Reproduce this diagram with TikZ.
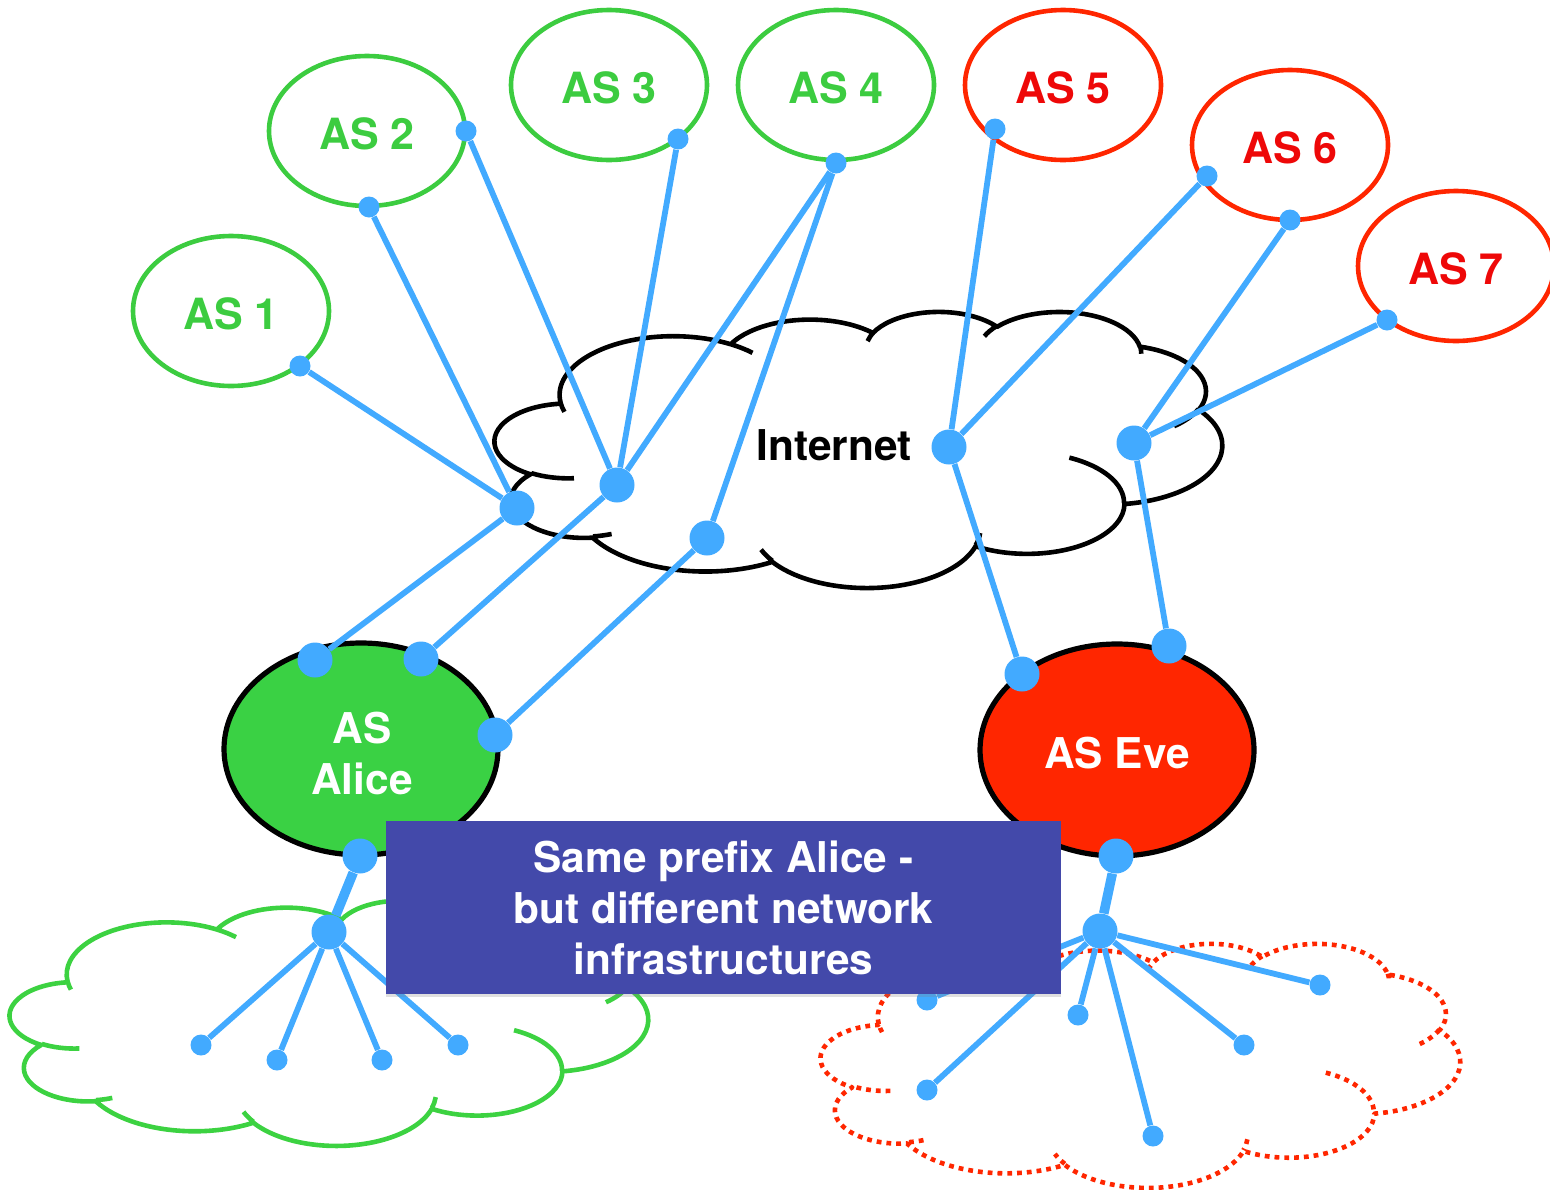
\documentclass[tikz,border=0pt]{standalone}
\usepackage{fontspec}
\setmainfont{TeX Gyre Heros}
\usetikzlibrary{shapes.geometric,shadows}

\definecolor{asgreen}{RGB}{60,204,64}
\definecolor{alicegreen}{RGB}{58,209,68}
\definecolor{asred}{RGB}{255,38,0}
\definecolor{astext}{RGB}{238,8,8}
\definecolor{evered}{RGB}{255,38,0}
\definecolor{linkblue}{RGB}{66,170,255}
\definecolor{boxblue}{RGB}{67,73,170}
\definecolor{cloudgreen}{RGB}{60,210,65}

% Office-style cloud outline in a 0..100 x 0..100 frame (y pointing down),
% followed by the short inner curls
\def\cloudpath{%
  (9.028,33.264)
  arc[start angle=-187.746, end angle=-59.63, x radius=15.632, y radius=21.273]
  arc[start angle=-152.02, end angle=-45.43, x radius=12.345, y radius=16.822]
  arc[start angle=-153.49, end angle=-37.33, x radius=10.104, y radius=13.762]
  arc[start angle=-139.69, end angle=-10.21, x radius=11.243, y radius=15.266]
  arc[start angle=-74.77, end angle=23.21, x radius=12.345, y radius=16.836]
  arc[start angle=-37.53, end angle=81.86, x radius=15.683, y radius=21.343]
  arc[start angle=0.46, end angle=121.98, x radius=13.391, y radius=18.211]
  arc[start angle=16.84, end angle=146.23, x radius=15.630, y radius=21.331]
  arc[start angle=58.98, end angle=150.20, x radius=17.870, y radius=24.405]
  arc[start angle=83.31, end angle=223.09, x radius=10.093, y radius=13.699]
  arc[start angle=120.36, end angle=264.11, x radius=10.058, y radius=13.762]
  -- cycle
  (10.863,60.595) arc[start angle=85.54, end angle=120.36, x radius=10.058, y radius=13.762]
  (16.037,80.785) arc[start angle=68.24, end angle=83.31, x radius=10.093, y radius=13.699]
  (38.144,90.486) arc[start angle=146.23, end angle=158.47, x radius=15.630, y radius=21.331]
  (66.729,80.442) arc[start angle=4.74, end angle=16.84, x radius=15.630, y radius=21.331]
  (79.002,53.134) arc[start angle=-64.03, end angle=0.46, x radius=13.391, y radius=18.211]
  (96.755,35.542) arc[start angle=23.21, end angle=49.63, x radius=12.345, y radius=16.836]
  (88.713,12.560) arc[start angle=-10.21, end angle=0.82, x radius=11.243, y radius=15.266]
  (67.310,9.148) arc[start angle=-156.29, end angle=-139.69, x radius=11.243, y radius=15.266]
  (51.252,10.926) arc[start angle=-167.73, end angle=-153.49, x radius=10.104, y radius=13.762]
  (32.407,12.019) arc[start angle=-59.63, end angle=-45.71, x radius=15.632, y radius=21.273]
  (9.553,36.549) arc[start angle=163.19, end angle=172.25, x radius=15.632, y radius=21.273]
}

\tikzset{
  aslabel/.style={font=\fontsize{21.5}{25}\selectfont\bfseries, text height=18.5pt},
  bigfont/.style={font=\fontsize{21.2}{25.5}\selectfont\bfseries},
  asg/.style={ellipse, draw=asgreen, line width=2.3pt, fill=white,
    minimum width=98pt, minimum height=75pt, inner sep=0pt,
    text=asgreen, aslabel},
  asr/.style={ellipse, draw=asred, line width=2.3pt, fill=white,
    minimum width=98pt, minimum height=75pt, inner sep=0pt,
    text=astext, aslabel},
  bigas/.style={ellipse, draw=black, line width=2.6pt,
    minimum width=137pt, minimum height=106pt, inner sep=0pt},
  biglabel/.style={text=white, bigfont, align=center},
  bigdot/.style={circle, fill=linkblue, minimum size=17.5pt, inner sep=0pt},
  smalldot/.style={circle, fill=linkblue, minimum size=10.5pt, inner sep=0pt},
  link/.style={draw=linkblue, line width=2.9pt},
  thicklink/.style={draw=linkblue, line width=4.8pt},
  cloudline/.style={line width=2.3pt, line join=round},
}

\begin{document}
\begin{tikzpicture}[x=0.5pt,y=-0.5pt]
\useasboundingbox (0,0) rectangle (1550,1189);

% clouds
\begin{scope}[shift={(495,311)},x=3.635pt,y=-1.38pt]
  \draw[cloudline, draw=black] \cloudpath;
\end{scope}
\begin{scope}[shift={(10,900)},x=3.19pt,y=-1.225pt]
  \draw[cloudline, draw=cloudgreen] \cloudpath;
\end{scope}
\begin{scope}[shift={(821,943)},x=3.195pt,y=-1.22pt]
  \draw[cloudline, draw=asred, dash pattern=on 2.4pt off 2.5pt] \cloudpath;
\end{scope}

% autonomous systems
\node[asg] (as1) at (231,311) {AS 1};
\node[asg] (as2) at (367,131) {AS 2};
\node[asg] (as3) at (609,85) {AS 3};
\node[asg] (as4) at (836,85) {AS 4};
\node[asr] (as5) at (1063,85) {AS 5};
\node[asr] (as6) at (1290,145) {AS 6};
\node[asr] (as7) at (1456,266) {AS 7};
\node[bigas, fill=alicegreen] (alice) at (361,749) {};
\node[biglabel] (alicelbl) at (362,753) {AS\\Alice};
\node[bigas, fill=evered] (eve) at (1117,750) {};
\node[biglabel] (evelbl) at (1117,753) {AS Eve};
\node[bigfont] (inet) at (834,445) {Internet};

% attachment points on the AS borders
\node[smalldot] (a1) at (300,366) {};
\node[smalldot] (a2b) at (369,207) {};
\node[smalldot] (a2r) at (466,131) {};
\node[smalldot] (a3) at (678,139) {};
\node[smalldot] (a4) at (836,163) {};
\node[smalldot] (a5) at (995,129) {};
\node[smalldot] (a6l) at (1207,176) {};
\node[smalldot] (a6b) at (1290,220) {};
\node[smalldot] (a7) at (1387,320) {};

% routers inside the Internet
\node[bigdot] (h1) at (517,508) {};
\node[bigdot] (h2) at (617,485) {};
\node[bigdot] (h3) at (707,538) {};
\node[bigdot] (h4) at (949,447) {};
\node[bigdot] (h5) at (1134,443) {};

% border routers of Alice and Eve
\node[bigdot] (al1) at (315,660) {};
\node[bigdot] (al2) at (421,659) {};
\node[bigdot] (al3) at (495,735) {};
\node[bigdot] (al4) at (360,856) {};
\node[bigdot] (ev1) at (1022,674) {};
\node[bigdot] (ev2) at (1169,646) {};
\node[bigdot] (ev3) at (1116,856) {};

% internal networks
\node[bigdot] (gh) at (329,932) {};
\node[bigdot] (rh) at (1100,931) {};
\node[smalldot] (g1) at (201,1045) {};
\node[smalldot] (g2) at (277,1060) {};
\node[smalldot] (g3) at (382,1060) {};
\node[smalldot] (g4) at (458,1045) {};
\node[smalldot] (r1) at (927,1000) {};
\node[smalldot] (r2) at (1078,1015) {};
\node[smalldot] (r3) at (1153,1136) {};
\node[smalldot] (r4) at (1244,1045) {};
\node[smalldot] (r5) at (1320,985) {};
\node[smalldot] (r6) at (927,1090) {};

% links
\draw[link] (a1) -- (h1);
\draw[link] (a2b) -- (h1);
\draw[link] (h1) -- (al1);
\draw[link] (a2r) -- (h2);
\draw[link] (a3) -- (h2);
\draw[link] (a4) -- (h2);
\draw[link] (h2) -- (al2);
\draw[link] (a4) -- (h3);
\draw[link] (h3) -- (al3);
\draw[link] (a5) -- (h4);
\draw[link] (a6l) -- (h4);
\draw[link] (h4) -- (ev1);
\draw[link] (a6b) -- (h5);
\draw[link] (a7) -- (h5);
\draw[link] (h5) -- (ev2);

\draw[thicklink] (al4) -- (gh);
\foreach \t in {g1,g2,g3,g4} \draw[link] (gh) -- (\t);
\draw[thicklink] (ev3) -- (rh);
\foreach \t in {r1,r2,r3,r4,r5,r6} \draw[link] (rh) -- (\t);

% caption box
\node[fill=boxblue, text=white, bigfont, align=center,
      minimum width=337.5pt, minimum height=86.5pt, inner sep=0pt,
      drop shadow={shadow xshift=0pt, shadow yshift=-1.5pt, opacity=0.25}]
  (msg) at (723.5,907.5) {Same prefix Alice -\\but different network\\infrastructures};
\end{tikzpicture}
\end{document}
